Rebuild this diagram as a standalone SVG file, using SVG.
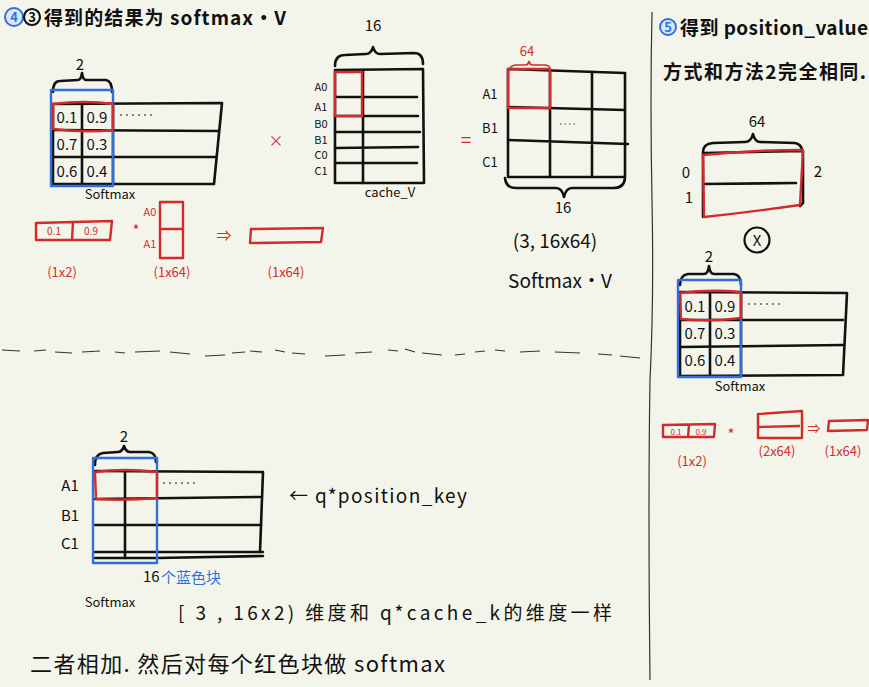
<svg xmlns="http://www.w3.org/2000/svg" width="869" height="687" viewBox="0 0 869 687">
<style>
text{font-family:"Noto Sans CJK SC","Noto Sans",sans-serif;fill:#111}
.k{fill:none;stroke:#111;stroke-width:2.6;stroke-linecap:round;stroke-linejoin:round}
.r{fill:none;stroke:#d42a2a;stroke-width:2.4;stroke-linejoin:round}
.b{fill:none;stroke:#2f6fe0;stroke-width:2.4;stroke-linejoin:round}
.rt{fill:#d42a2a}
.bt{fill:#2f6fe0}
.xs{font-size:11px}
.s{font-size:13px}
.m{font-size:15px}
.l{font-size:19px}
</style>
<rect width="869" height="687" fill="#f4f5ea"/>

<g id="title4">
<circle cx="14" cy="17" r="9" fill="#dbe7fb" stroke="#2f6fe0" stroke-width="2"/>
<text x="14" y="22" class="s bt" text-anchor="middle" font-weight="bold">4</text>
<circle cx="32" cy="17" r="8" fill="none" stroke="#111" stroke-width="2.2"/>
<text x="32" y="22" class="s" text-anchor="middle" font-weight="bold">3</text>
<text x="44" y="25" class="l" font-weight="bold" textLength="242" lengthAdjust="spacing">得到的结果为 softmax·V</text>
</g>

<g id="softmax1">
<text x="80" y="70" class="m" text-anchor="middle">2</text>
<path class="k" d="M53 92 Q53 81 60 81 L78 80 Q81 80 82 73 Q83 80 86 80 L106 80 Q112 81 112 92"/>
<path class="k" d="M53 104 L222 103 L214 184 L53 184 Z"/>
<path class="k" d="M53 130 L218 131 M53 157 L216 157 M82 104 L82 184 M113 104 L113 184"/>
<rect class="b" x="51" y="90" width="62" height="96"/>
<path class="r" d="M53 104 Q85 100 113 104 L113 130 Q85 133 53 129 Z"/>
<text x="67" y="123" class="m" text-anchor="middle">0.1</text>
<text x="97" y="123" class="m" text-anchor="middle">0.9</text>
<text x="67" y="150" class="m" text-anchor="middle">0.7</text>
<text x="97" y="150" class="m" text-anchor="middle">0.3</text>
<text x="67" y="177" class="m" text-anchor="middle">0.6</text>
<text x="97" y="177" class="m" text-anchor="middle">0.4</text>
<path d="M120 115 L155 115" stroke="#111" stroke-width="1" stroke-dasharray="2 4"/>
<text x="110" y="199" class="s" text-anchor="middle">Softmax</text>
</g>

<g id="example1">
<path class="r" d="M36 223 L112 221 L110 240 L36 240 Z M73 222 L72 240"/>
<text x="54" y="235" font-size="10" class="rt" text-anchor="middle">0.1</text>
<text x="91" y="235" font-size="10" class="rt" text-anchor="middle">0.9</text>
<text x="136" y="236" class="m rt" text-anchor="middle">*</text>
<text x="150" y="216" font-size="11" class="rt" text-anchor="middle">A0</text>
<text x="150" y="248" font-size="11" class="rt" text-anchor="middle">A1</text>
<path class="r" d="M160 202 L183 202 L183 258 L160 258 Z M160 229 L183 229"/>
<text x="224" y="241" class="m rt" text-anchor="middle">⇒</text>
<path class="r" d="M251 229 L323 228 L321 242 L250 243 Z"/>
<text x="62" y="277" class="s rt" text-anchor="middle">(1x2)</text>
<text x="172" y="277" class="s rt" text-anchor="middle">(1x64)</text>
<text x="286" y="277" class="s rt" text-anchor="middle">(1x64)</text>
</g>

<g id="cacheV">
<text x="373" y="31" class="m" text-anchor="middle">16</text>
<path class="k" d="M335 66 Q335 55 345 55 L366 54 Q371 54 373 47 Q375 54 380 54 L414 53 Q423 53 423 64"/>
<path class="k" d="M335 70 L423 69 L424 183 L335 183 Z"/>
<path class="k" d="M363 70 L363 183 M335 97 L417 97 M335 116 L418 116 M335 132 L420 132 M335 148 L418 147 M335 163 L417 163"/>
<rect class="r" x="335" y="72" width="27" height="44"/>
<text x="321" y="91" class="xs" text-anchor="middle">A0</text>
<text x="321" y="111" class="xs" text-anchor="middle">A1</text>
<text x="321" y="128" class="xs" text-anchor="middle">B0</text>
<text x="321" y="144" class="xs" text-anchor="middle">B1</text>
<text x="321" y="159" class="xs" text-anchor="middle">C0</text>
<text x="321" y="175" class="xs" text-anchor="middle">C1</text>
<text x="390" y="197" class="s" text-anchor="middle">cache_V</text>
</g>

<g id="operators">
<text x="276" y="146" class="m rt" text-anchor="middle">×</text>
<text x="466" y="147" class="l rt" text-anchor="middle">=</text>
</g>

<g id="result">
<text x="527" y="56" class="s rt" text-anchor="middle">64</text>
<path d="M510 69 Q510 65 518 65 L526 65 Q528 65 529 61 Q530 65 532 65 L544 65 Q550 65 550 69" fill="none" stroke="#d42a2a" stroke-width="1.5"/>
<path class="k" d="M508 69 L625 73 L625 177 L508 177 Z"/>
<path class="k" d="M550 70 L550 177 M592 72 L592 177 M508 107 L625 110 M508 140 L628 144"/>
<rect class="r" x="508" y="69" width="42" height="39"/>
<text x="490" y="99" class="s" text-anchor="middle">A1</text>
<text x="490" y="133" class="s" text-anchor="middle">B1</text>
<text x="490" y="167" class="s" text-anchor="middle">C1</text>
<path d="M560 124 L576 124" stroke="#111" stroke-width="0.8" stroke-dasharray="1.5 3"/>
<path class="k" d="M505 178 Q506 188 516 188 L556 188 Q562 188 564 197 Q566 188 572 188 L614 188 Q624 188 625 178"/>
<text x="563" y="213" class="m" text-anchor="middle">16</text>
<text x="555" y="248" class="l" text-anchor="middle">(3, 16x64)</text>
<text x="560" y="288" class="l" text-anchor="middle">Softmax·V</text>
</g>

<g id="dividers">
<path d="M2 350 L20 351 M34 351 L46 350 M55 352 L72 353 M82 352 L100 351 M115 352 L125 353 M135 352 L160 351 M170 352 L190 354 M205 356 L225 355 M232 353 L245 352 M250 351 L262 352 M275 350 L285 352 M292 353 L305 354 M325 356 L345 355 M355 353 L372 352 M388 350 L398 351 M405 349 L415 352 M422 353 L442 355 M455 355 L465 354 M475 352 L485 351 M495 350 L505 351 M520 352 L540 351 M555 352 L580 353 M598 354 L612 355 M620 356 L640 358" fill="none" stroke="#333" stroke-width="1.2"/>
<path d="M652 12 Q650 100 652 200 Q654 300 650 380 Q648 500 650 680" fill="none" stroke="#333" stroke-width="1.2"/>
</g>

<g id="title5">
<circle cx="668" cy="27" r="8" fill="#dbe7fb" stroke="#2f6fe0" stroke-width="2"/>
<text x="668" y="32" class="s bt" text-anchor="middle" font-weight="bold">5</text>
<text x="680" y="35" class="l" font-weight="bold" textLength="188" lengthAdjust="spacing">得到 position_value</text>
<text x="663" y="79" class="l" font-weight="bold" textLength="203" lengthAdjust="spacing">方式和方法2完全相同.</text>
</g>

<g id="posValue">
<text x="757" y="127" class="m" text-anchor="middle">64</text>
<path class="k" d="M703 152 Q703 144 713 143 L745 142 Q751 142 753 134 Q755 142 760 142 L795 143 Q801 144 802 150"/>
<path class="k" d="M703 153 L803 151 L803 203 L800 206 M703 184 L796 183 M703 153 L703 217"/>
<path class="r" d="M703 155 Q750 150 803 150 L800 205 Q750 212 704 217 Z"/>
<text x="686" y="178" class="m" text-anchor="middle">0</text>
<text x="689" y="203" class="m" text-anchor="middle">1</text>
<text x="818" y="177" class="m" text-anchor="middle">2</text>
<circle cx="757" cy="240" r="12.5" fill="none" stroke="#111" stroke-width="2.2"/>
<text x="757" y="246" class="m" text-anchor="middle">X</text>
</g>

<g id="softmax2">
<text x="709" y="262" class="m" text-anchor="middle">2</text>
<path class="k" d="M680 285 Q680 275 688 274 L704 274 Q708 274 709 266 Q710 274 714 274 L734 274 Q741 275 741 285"/>
<path class="k" d="M680 292 L847 293 L843 375 L680 376 Z"/>
<path class="k" d="M680 320 L843 320 M680 347 L843 345 M710 292 L710 376 M741 292 L741 376"/>
<rect class="b" x="678" y="280" width="63" height="97"/>
<path class="r" d="M680 293 Q710 289 741 292 L741 318 Q710 322 681 319 Z"/>
<text x="695" y="312" class="m" text-anchor="middle">0.1</text>
<text x="725" y="312" class="m" text-anchor="middle">0.9</text>
<text x="695" y="339" class="m" text-anchor="middle">0.7</text>
<text x="725" y="339" class="m" text-anchor="middle">0.3</text>
<text x="695" y="366" class="m" text-anchor="middle">0.6</text>
<text x="725" y="366" class="m" text-anchor="middle">0.4</text>
<path d="M748 304 L782 304" stroke="#111" stroke-width="1" stroke-dasharray="2 4"/>
<text x="740" y="391" class="s" text-anchor="middle">Softmax</text>
</g>

<g id="example2">
<path class="r" d="M663 425 L715 424 L714 437 L663 437 Z M689 425 L688 437"/>
<text x="676" y="435" font-size="8" class="rt" text-anchor="middle">0.1</text>
<text x="701" y="435" font-size="8" class="rt" text-anchor="middle">0.9</text>
<text x="731" y="440" class="m rt" text-anchor="middle">*</text>
<path class="r" d="M758 414 L802 411 L802 438 L758 438 Z M758 427 L800 426"/>
<text x="814" y="433" class="s rt" text-anchor="middle">⇒</text>
<path class="r" d="M829 421 L868 420 L867 430 L828 431 Z"/>
<text x="692" y="466" class="s rt" text-anchor="middle">(1x2)</text>
<text x="777" y="456" class="s rt" text-anchor="middle">(2x64)</text>
<text x="843" y="456" class="s rt" text-anchor="middle">(1x64)</text>
</g>

<g id="softmax3">
<text x="124" y="442" class="m" text-anchor="middle">2</text>
<path class="k" d="M95 465 Q95 454 103 453 L118 452 Q122 452 124 446 Q126 452 130 452 L149 452 Q156 453 156 462"/>
<path class="k" d="M95 471 L263 472 L260 552 M95 558 L157 558 L263 556"/>
<path class="k" d="M95 499 L260 497 M95 525 L261 525 M95 552 L263 552 M125 471 L125 558"/>
<rect class="b" x="93" y="458" width="64" height="105"/>
<path class="r" d="M95 472 Q125 468 157 472 L157 498 Q125 501 96 499 Z"/>
<text x="70" y="491" class="m" text-anchor="middle">A1</text>
<text x="70" y="521" class="m" text-anchor="middle">B1</text>
<text x="70" y="549" class="m" text-anchor="middle">C1</text>
<path d="M163 483 L198 483" stroke="#111" stroke-width="1" stroke-dasharray="2 4"/>
<text x="143" y="582" class="m">16</text>
<text x="161" y="583" class="m bt">个蓝色块</text>
<text x="110" y="607" class="s" text-anchor="middle">Softmax</text>
<text x="289" y="503" class="l" textLength="178" lengthAdjust="spacing">← q*position_key</text>
</g>

<g id="notes">
<text x="178" y="620" class="l" textLength="434" lengthAdjust="spacing">[ 3 , 16x2)  维度和 q*cache_k的维度一样</text>
<text x="30" y="672" font-size="22" textLength="415" lengthAdjust="spacing">二者相加. 然后对每个红色块做 softmax</text>
</g>
</svg>
